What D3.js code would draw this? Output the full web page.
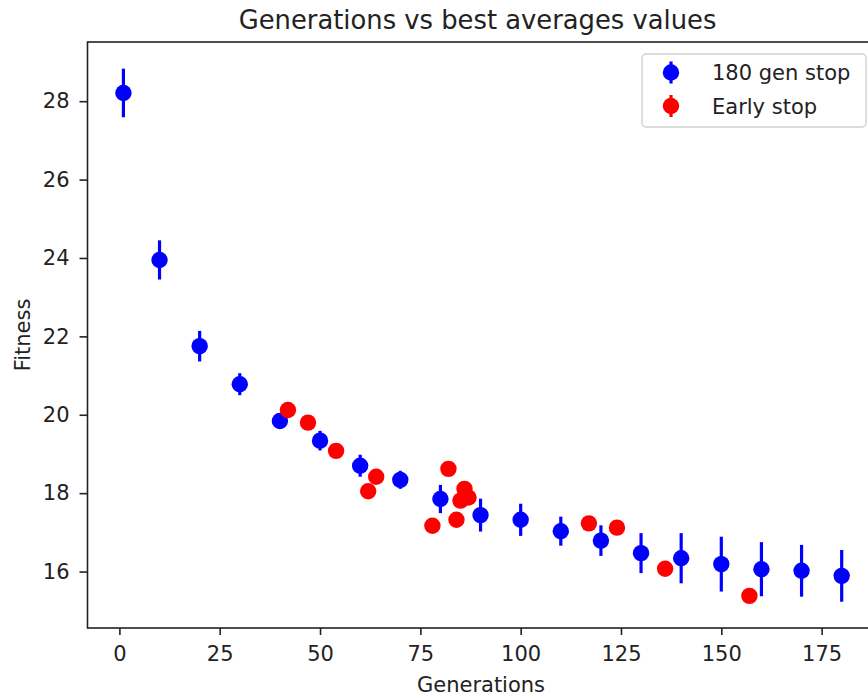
<!DOCTYPE html>
<html>
<head>
<meta charset="utf-8">
<script src="https://cdn.jsdelivr.net/npm/d3@7.9.0/dist/d3.min.js"></script>
<style>
  body { margin: 0; background: #fff; }
  svg { display: block; font-family: "DejaVu Sans", sans-serif; }
</style>
</head>
<body>
<svg id="chart" width="868" height="698"></svg>
<script>
// 180 gen stop runs
const fullGens = [1, 10, 20, 30, 40, 50, 60, 70, 80, 90, 100, 110, 120, 130, 140, 150, 160, 170, 180];
const fullMeans = [28.21, 23.95, 21.75, 20.78, 19.84, 19.34, 18.70, 18.34, 17.85, 17.44, 17.32, 17.03, 16.79, 16.47, 16.34, 16.19, 16.06, 16.02, 15.89];
const fullErr = [0.62, 0.5, 0.39, 0.28, 0.2, 0.25, 0.28, 0.23, 0.36, 0.42, 0.41, 0.37, 0.39, 0.51, 0.64, 0.70, 0.69, 0.66, 0.66];

// early stop runs
const earlyGens = [42, 47, 54, 64, 62, 82, 86, 87, 85, 78, 84, 117, 124, 136, 157];
const earlyMeans = [20.12, 19.80, 19.08, 18.42, 18.05, 18.62, 18.11, 17.89, 17.81, 17.17, 17.32, 17.23, 17.12, 16.07, 15.38];
const earlyErr = [0, 0, 0, 0, 0, 0, 0, 0, 0, 0, 0, 0, 0, 0, 0];

const xTicks = [0, 25, 50, 75, 100, 125, 150, 175];
const yTicks = [16, 18, 20, 22, 24, 26, 28];
const seriesNames = ['180 gen stop', 'Early stop'];
const seriesColors = ['blue', 'red'];

const svg = d3.select('#chart');
const plotLeft = 87.5, plotRight = 877.6, plotTop = 42, plotBottom = 628;

const x = d3.scaleLinear().domain([-7.95, 188.95]).range([plotLeft, plotRight]);
const y = d3.scaleLinear().domain([14.56, 29.51]).range([plotBottom, plotTop]);

// axes
const xAxis = svg.append('g')
  .attr('transform', `translate(0,${plotBottom})`)
  .call(d3.axisBottom(x).tickValues(xTicks).tickSize(7).tickPadding(11));
const yAxis = svg.append('g')
  .attr('transform', `translate(${plotLeft},0)`)
  .call(d3.axisLeft(y).tickValues(yTicks).tickSize(8).tickPadding(10));

[xAxis, yAxis].forEach((g) => {
  g.selectAll('text').attr('font-size', 21).attr('fill', '#222').attr('font-family', '"DejaVu Sans", sans-serif');
  g.selectAll('line').attr('stroke', '#222').attr('stroke-width', 1.6);
  g.select('.domain').remove();
});

// spines
svg.append('rect')
  .attr('x', plotLeft).attr('y', plotTop)
  .attr('width', plotRight - plotLeft).attr('height', plotBottom - plotTop)
  .attr('fill', 'none').attr('stroke', '#222').attr('stroke-width', 1.6);

function drawSeries(gens, means, errs, color) {
  const g = svg.append('g');
  gens.forEach((gen, i) => {
    if (errs[i] > 0) {
      g.append('line')
        .attr('x1', x(gen)).attr('x2', x(gen))
        .attr('y1', y(means[i] - errs[i])).attr('y2', y(means[i] + errs[i]))
        .attr('stroke', color).attr('stroke-width', 3.2);
    }
    g.append('circle')
      .attr('cx', x(gen)).attr('cy', y(means[i]))
      .attr('r', 8.2).attr('fill', color);
  });
}

drawSeries(fullGens, fullMeans, fullErr, seriesColors[0]);
drawSeries(earlyGens, earlyMeans, earlyErr, seriesColors[1]);

// title and labels
svg.append('text')
  .attr('x', (plotLeft + plotRight) / 2 - 5).attr('y', 29)
  .attr('text-anchor', 'middle').attr('font-size', 25.8).attr('fill', '#222')
  .text('Generations vs best averages values');

svg.append('text')
  .attr('x', 481).attr('y', 692)
  .attr('text-anchor', 'middle').attr('font-size', 21).attr('fill', '#222')
  .text('Generations');

svg.append('text')
  .attr('transform', `translate(30,${(plotTop + plotBottom) / 2}) rotate(-90)`)
  .attr('text-anchor', 'middle').attr('font-size', 21).attr('fill', '#222')
  .text('Fitness');

// legend
const legend = svg.append('g').attr('transform', 'translate(642,54)');
legend.append('rect')
  .attr('width', 224).attr('height', 73).attr('rx', 4)
  .attr('fill', 'white').attr('fill-opacity', 0.8)
  .attr('stroke', '#d0d0d0').attr('stroke-width', 1.4);

seriesNames.forEach((name, i) => {
  const cy = 18.5 + i * 33.5;
  legend.append('line')
    .attr('x1', 29).attr('x2', 29)
    .attr('y1', cy - 11).attr('y2', cy + 11)
    .attr('stroke', seriesColors[i]).attr('stroke-width', 3.2);
  legend.append('circle')
    .attr('cx', 29).attr('cy', cy).attr('r', 8.2).attr('fill', seriesColors[i]);
  legend.append('text')
    .attr('x', 70).attr('y', cy + 7.5)
    .attr('font-size', 21).attr('fill', '#222')
    .text(name);
});
</script>
</body>
</html>
